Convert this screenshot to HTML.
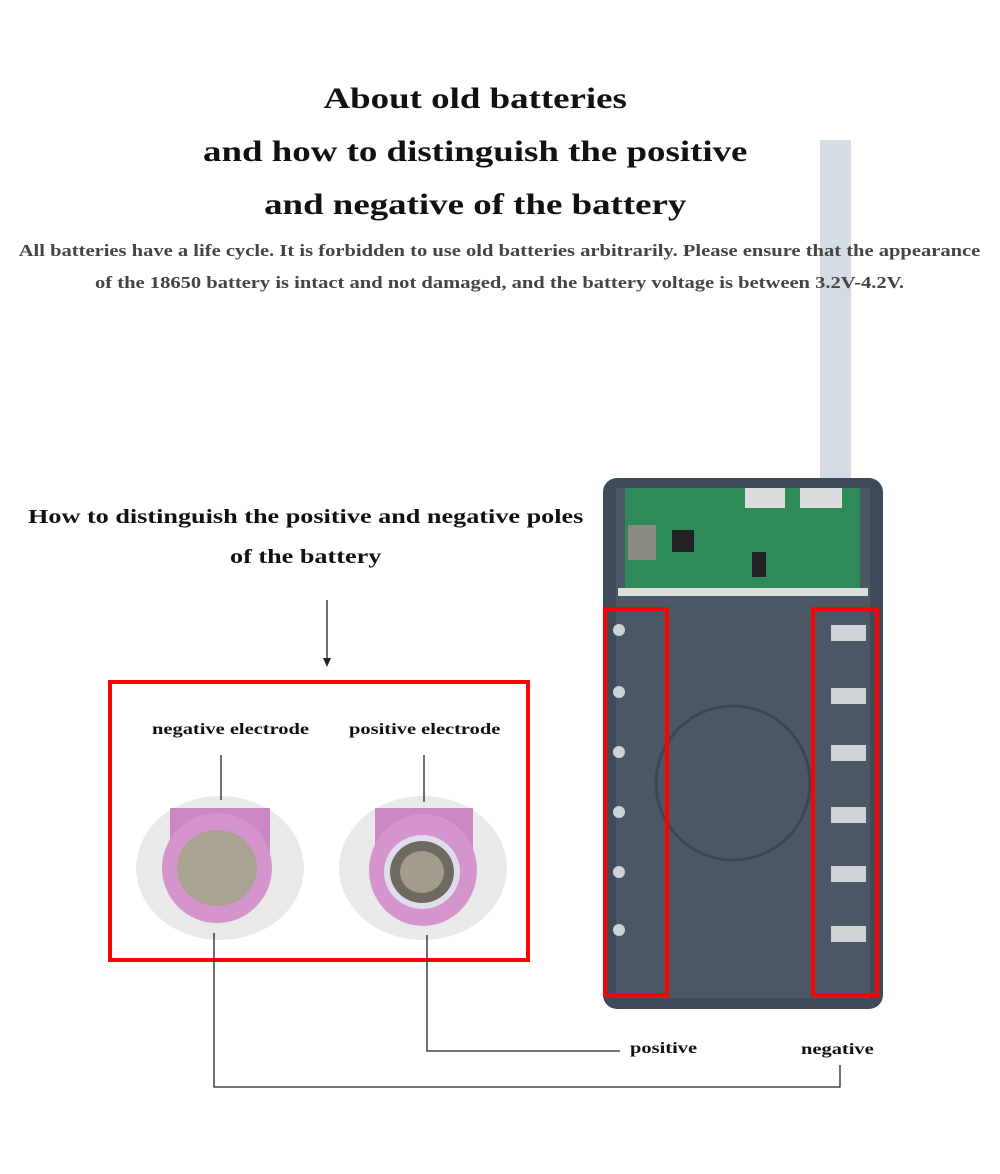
<!DOCTYPE html>
<html><head><meta charset="utf-8"><style>
body{margin:0;width:1000px;height:1174px;background:#fff;position:relative;overflow:hidden;font-family:"Liberation Serif",serif;font-weight:bold}
.t{position:absolute;left:0;width:950px;text-align:center;font-size:30px;color:#111;transform:scaleX(1.23);transform-origin:474px 0}
.p{position:absolute;left:0;width:1000px;text-align:center;font-size:16.5px;color:#444;transform:scaleX(1.245);transform-origin:502px 0}
.a{position:absolute;font-size:20px;color:#111;transform:scaleX(1.31);transform-origin:0 0;white-space:nowrap}
.s{position:absolute;font-size:15.5px;color:#111;transform:scaleX(1.32);transform-origin:0 0;white-space:nowrap}
</style></head><body>
<div style="position:absolute;left:820px;top:140px;width:31px;height:345px;background:#d6dce4"></div>
<div class="t" style="top:82px">About old batteries</div>
<div class="t" style="top:135px">and how to distinguish the positive</div>
<div class="t" style="top:188px">and negative of the battery</div>
<div class="p" style="top:241px">All batteries have a life cycle. It is forbidden to use old batteries arbitrarily. Please ensure that the appearance</div>
<div class="p" style="top:273px">of the 18650 battery is intact and not damaged, and the battery voltage is between 3.2V-4.2V.</div>
<div class="a" style="left:28px;top:506px">How to distinguish the positive and negative poles</div>
<div class="a" style="left:230px;top:546px">of the battery</div>
<svg width="1000" height="1174" style="position:absolute;left:0;top:0">
<line x1="327" y1="600" x2="327" y2="660" stroke="#222" stroke-width="1.3"/>
<polygon points="323,658 331,658 327,667" fill="#222"/>
<rect x="603" y="478" width="280" height="531" rx="14" fill="#3e4a57"/>
<rect x="616" y="488" width="254" height="510" fill="#4a5866"/>
<rect x="625" y="488" width="235" height="100" fill="#2f8a5a"/>
<rect x="628" y="525" width="28" height="35" fill="#8a8a80"/>
<rect x="672" y="530" width="22" height="22" fill="#222"/>
<rect x="745" y="488" width="40" height="20" fill="#ddd"/>
<rect x="800" y="488" width="42" height="20" fill="#ddd"/>
<rect x="752" y="552" width="14" height="25" fill="#222"/>
<rect x="618" y="588" width="250" height="8" fill="#ddd"/>
<circle cx="733" cy="783" r="77" fill="none" stroke="#3a4653" stroke-width="3"/>
<g fill="#cfd3d8">
<circle cx="619" cy="630" r="6"/><circle cx="619" cy="692" r="6"/><circle cx="619" cy="752" r="6"/><circle cx="619" cy="812" r="6"/><circle cx="619" cy="872" r="6"/><circle cx="619" cy="930" r="6"/>
<rect x="831" y="625" width="35" height="16"/><rect x="831" y="688" width="35" height="16"/><rect x="831" y="745" width="35" height="16"/><rect x="831" y="807" width="35" height="16"/><rect x="831" y="866" width="35" height="16"/><rect x="831" y="926" width="35" height="16"/>
</g>
<rect x="605" y="609" width="62" height="386" fill="none" stroke="#f00" stroke-width="4"/>
<rect x="813" y="609" width="64" height="386" fill="none" stroke="#f00" stroke-width="4"/>
<rect x="110" y="682" width="418" height="278" fill="none" stroke="#f00" stroke-width="4"/>
<ellipse cx="220" cy="868" rx="84" ry="72" fill="#e9e9e9"/>
<ellipse cx="423" cy="868" rx="84" ry="72" fill="#e9e9e9"/>
<rect x="170" y="808" width="100" height="60" fill="#cc88c4"/>
<ellipse cx="217" cy="868" rx="55" ry="55" fill="#d595cc"/>
<ellipse cx="217" cy="868" rx="40" ry="38" fill="#a9a391"/>
<rect x="375" y="808" width="98" height="60" fill="#cc88c4"/>
<ellipse cx="423" cy="870" rx="54" ry="56" fill="#d595cc"/>
<ellipse cx="422" cy="872" rx="38" ry="37" fill="#dde"/>
<ellipse cx="422" cy="872" rx="32" ry="31" fill="#6e6a60"/>
<ellipse cx="422" cy="872" rx="22" ry="21" fill="#a29c8c"/>
<g stroke="#222" stroke-width="1.3" fill="none">
<line x1="221" y1="755" x2="221" y2="800"/>
<line x1="424" y1="755" x2="424" y2="802"/>
<polyline points="214,933 214,1087 840,1087 840,1065"/>
<polyline points="427,935 427,1051 620,1051"/>
</g>
</svg>
<div class="s" style="left:152px;top:721px">negative electrode</div>
<div class="s" style="left:349px;top:721px">positive electrode</div>
<div class="s" style="left:630px;top:1040px">positive</div>
<div class="s" style="left:801px;top:1041px">negative</div>
</body></html>
